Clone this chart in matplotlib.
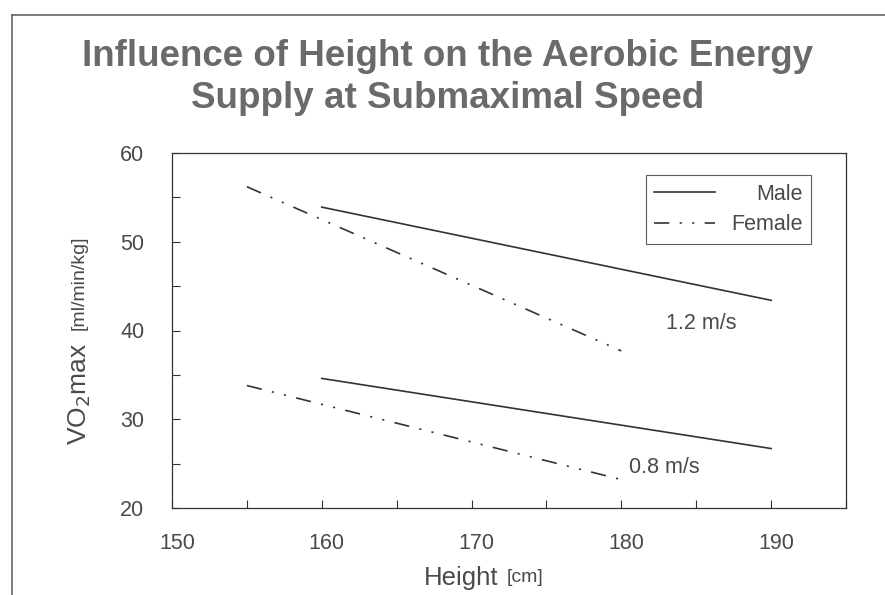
import matplotlib
matplotlib.use("Agg")
import matplotlib.pyplot as plt
from matplotlib.transforms import ScaledTranslation, Affine2D
from matplotlib.ticker import MultipleLocator

plt.rcParams['font.family'] = ['Liberation Sans', 'DejaVu Sans']
plt.rcParams['lines.scale_dashes'] = False

# ---- data ----
male_height = [160, 190]
male_12 = [53.9, 43.4]
male_08 = [34.6, 26.7]
female_height = [155, 180]
female_12 = [56.2, 37.7]
female_08 = [33.8, 23.2]
speed_labels = ["1.2 m/s", "0.8 m/s"]
speed_label_pos = [(183.0, 40.8), (180.5, 24.6)]
xticks = [150, 160, 170, 180, 190]
yticks = [20, 30, 40, 50, 60]

TXT = '#4a4a4a'
LINE = '#333333'
FS = 15.5
dashdot2 = (0, (11, 7.5, 1.5, 7.5, 1.5, 7.5))

fig = plt.figure(figsize=(8.85, 5.95), dpi=100)
ax = fig.add_axes([172/885, 1-508/595, 674/885, 355/595])

ax.plot(male_height, male_12, color=LINE, lw=1.2, label='Male')
ax.plot(female_height, female_12, color=LINE, lw=1.2, ls=dashdot2, label='Female')
ax.plot(male_height, male_08, color=LINE, lw=1.2)
ax.plot(female_height, female_08, color=LINE, lw=1.2, ls=dashdot2)

for lab, (x, y) in zip(speed_labels, speed_label_pos):
    ax.text(x, y, lab, fontsize=FS, color=TXT, ha='left', va='center')

ax.set_xlim(150, 195)
ax.set_ylim(20, 60)
ax.set_xticks(xticks)
ax.set_yticks(yticks)
ax.xaxis.set_minor_locator(MultipleLocator(5))
ax.yaxis.set_minor_locator(MultipleLocator(5))
ax.tick_params(which='both', direction='in', length=5.5, width=0.8, color=LINE,
               top=False, right=False)
ax.tick_params(which='major', labelsize=FS, labelcolor=TXT)
ax.tick_params(axis='x', which='major', pad=18)
ax.tick_params(axis='y', which='major', pad=20)
for t in ax.xaxis.get_major_ticks():
    t.tick1line.set_visible(t.get_loc() not in (150,))
for t in ax.yaxis.get_major_ticks():
    t.tick1line.set_visible(t.get_loc() not in (20, 60))
for lbl in ax.get_xticklabels():
    lbl.set_transform(lbl.get_transform() + ScaledTranslation(5/100, 0, fig.dpi_scale_trans))
for s in ax.spines.values():
    s.set_color(LINE)
    s.set_linewidth(0.9)

leg = ax.legend(loc='upper right', bbox_to_anchor=(811/885, 1-175/595),
                bbox_transform=fig.transFigure, frameon=True, fancybox=False,
                fontsize=FS, handlelength=2.8, handletextpad=0.75,
                borderpad=0.4, labelspacing=0.45, borderaxespad=0)
leg.get_frame().set_edgecolor(LINE)
leg.get_frame().set_linewidth(0.8)
for t in leg.get_texts():
    t.set_color(TXT)
fig.canvas.draw()
texts = leg.get_texts()
wmax = max(t.get_window_extent().width for t in texts)
for t in texts:
    dx = wmax - t.get_window_extent().width
    t.set_transform(t.get_transform() + Affine2D().translate(dx, 0))

# axis labels
fig.text(461/885, 1-578/595, 'Height', fontsize=18.5, color=TXT, ha='center', va='center')
fig.text(507/885, 1-578/595, '[cm]', fontsize=14, color=TXT, ha='left', va='center')
fig.text(80/885, 1-394/595, r'VO$_2$max', fontsize=19, color=TXT, ha='center',
         va='center', rotation=90)
fig.text(79/885, 1-283/595, '[ml/min/kg]', fontsize=14, color=TXT, ha='center',
         va='center', rotation=90)

# title
fig.text(448/885, 1-56/595, 'Influence of Height on the Aerobic Energy',
         fontsize=26.5, fontweight='bold', color='#6a6a6a', ha='center', va='center')
fig.text(448/885, 1-98/595, 'Supply at Submaximal Speed',
         fontsize=26.5, fontweight='bold', color='#6a6a6a', ha='center', va='center')

# outer frame of the scanned page
fig.add_artist(plt.Line2D([12/885, 12/885], [0, 1-15/595], transform=fig.transFigure,
                          color='#666666', lw=1.2))
fig.add_artist(plt.Line2D([12/885, 1], [1-15/595, 1-15/595], transform=fig.transFigure,
                          color='#666666', lw=1.2))

fig.savefig('out.png', dpi=100)
